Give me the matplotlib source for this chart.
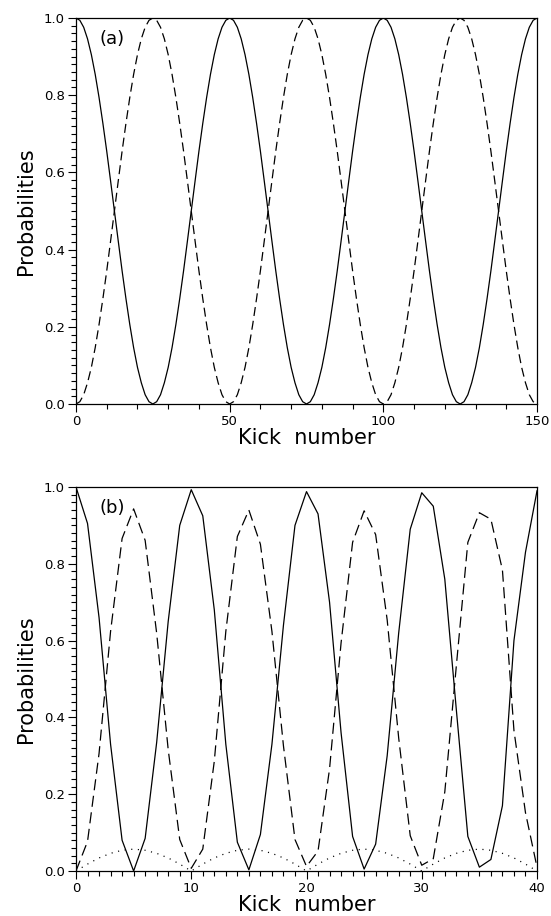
import numpy as np
import matplotlib
matplotlib.use("Agg")
import matplotlib.pyplot as plt
from matplotlib.ticker import MultipleLocator, FormatStrFormatter

# ---------------- data ----------------
# panel (a): kick numbers sampled every 1.25 kicks (0 .. 150)
kicks_a = np.arange(0, 150.001, 1.25)
_half_down = [1.000, .994, .976, .946, .905, .854, .794, .727, .655, .578,
              .500, .422, .345, .273, .206, .146, .095, .055, .024, .006]
_half_up = [0.000, .006, .024, .055, .095, .146, .206, .273, .345, .422,
            .500, .578, .655, .727, .794, .854, .905, .946, .976, .994]
solid_a = [1.000, .994, .976, .946, .905, .854, .794, .727, .655, .578,
           .500, .422, .345, .273, .206, .146, .095, .055, .024, .006,
           0.000, .006, .024, .055, .095, .146, .206, .273, .345, .422,
           .500, .578, .655, .727, .794, .854, .905, .946, .976, .994,
           1.000, .994, .976, .946, .905, .854, .794, .727, .655, .578,
           .500, .422, .345, .273, .206, .146, .095, .055, .024, .006,
           0.000, .006, .024, .055, .095, .146, .206, .273, .345, .422,
           .500, .578, .655, .727, .794, .854, .905, .946, .976, .994,
           1.000, .994, .976, .946, .905, .854, .794, .727, .655, .578,
           .500, .422, .345, .273, .206, .146, .095, .055, .024, .006,
           0.000, .006, .024, .055, .095, .146, .206, .273, .345, .422,
           .500, .578, .655, .727, .794, .854, .905, .946, .976, .994,
           1.000]
dashed_a = [0.000, .006, .024, .055, .095, .146, .206, .273, .345, .422,
            .500, .578, .655, .727, .794, .854, .905, .946, .976, .994,
            1.000, .994, .976, .946, .905, .854, .794, .727, .655, .578,
            .500, .422, .345, .273, .206, .146, .095, .055, .024, .006,
            0.000, .006, .024, .055, .095, .146, .206, .273, .345, .422,
            .500, .578, .655, .727, .794, .854, .905, .946, .976, .994,
            1.000, .994, .976, .946, .905, .854, .794, .727, .655, .578,
            .500, .422, .345, .273, .206, .146, .095, .055, .024, .006,
            0.000, .006, .024, .055, .095, .146, .206, .273, .345, .422,
            .500, .578, .655, .727, .794, .854, .905, .946, .976, .994,
            1.000, .994, .976, .946, .905, .854, .794, .727, .655, .578,
            .500, .422, .345, .273, .206, .146, .095, .055, .024, .006,
            0.000]

# panel (b): integer kick numbers 0..40
kicks_b = np.arange(0, 41)
solid_b = [1.000, 0.905, 0.660, 0.330, 0.080, 0.000, 0.085, 0.335, 0.650, 0.900,
           0.993, 0.925, 0.680, 0.330, 0.075, 0.003, 0.095, 0.330, 0.640, 0.900,
           0.988, 0.930, 0.700, 0.360, 0.090, 0.005, 0.070, 0.300, 0.620, 0.890,
           0.985, 0.950, 0.760, 0.420, 0.090, 0.010, 0.030, 0.170, 0.600, 0.830,
           0.990]
dashed_b = [0.000, 0.077, 0.306, 0.624, 0.866, 0.943, 0.861, 0.619, 0.316, 0.082,
            0.007, 0.057, 0.286, 0.624, 0.871, 0.940, 0.851, 0.624, 0.326, 0.082,
            0.012, 0.052, 0.266, 0.594, 0.856, 0.938, 0.876, 0.654, 0.346, 0.092,
            0.015, 0.032, 0.206, 0.534, 0.856, 0.933, 0.916, 0.784, 0.366, 0.152,
            0.010]
dotted_b = [0.000, 0.018, 0.034, 0.046, 0.054, 0.057, 0.054, 0.046, 0.034, 0.018,
            0.000, 0.018, 0.034, 0.046, 0.054, 0.057, 0.054, 0.046, 0.034, 0.018,
            0.000, 0.018, 0.034, 0.046, 0.054, 0.057, 0.054, 0.046, 0.034, 0.018,
            0.000, 0.018, 0.034, 0.046, 0.054, 0.057, 0.054, 0.046, 0.034, 0.018,
            0.000]

y_ticks = [0.0, 0.2, 0.4, 0.6, 0.8, 1.0]
x_ticks_a = [0, 50, 100, 150]
x_ticks_b = [0, 10, 20, 30, 40]

# ---------------- figure ----------------
plt.rcParams['font.family'] = ['DejaVu Sans']
plt.rcParams['lines.scale_dashes'] = False

W, H = 551, 916
fig = plt.figure(figsize=(W / 100, H / 100), dpi=100)

def frac(l, t, r, b):
    return [l / W, 1 - b / H, (r - l) / W, (b - t) / H]

ax_a = fig.add_axes(frac(76, 18, 537, 404))
ax_b = fig.add_axes(frac(76, 487, 537, 871))

LW = 0.9
DASH = (6.5, 3.5)
DOT = (0.8, 4.0)

ax_a.plot(kicks_a, solid_a, color='black', lw=LW)
ax_a.plot(kicks_a, dashed_a, color='black', lw=LW, linestyle=(0, DASH))

ax_b.plot(kicks_b, solid_b, color='black', lw=LW)
ax_b.plot(kicks_b, dashed_b, color='black', lw=LW, linestyle=(0, (8, 4)))
ax_b.plot(kicks_b, dotted_b, color='black', lw=LW, linestyle=(0, DOT))

for ax, xmax, xt, xminor, lab in [(ax_a, 150, x_ticks_a, 10, '(a)'),
                                  (ax_b, 40, x_ticks_b, 1, '(b)')]:
    ax.set_xlim(0, xmax)
    ax.set_ylim(0, 1)
    ax.set_xticks(xt)
    ax.xaxis.set_minor_locator(MultipleLocator(xminor))
    ax.set_yticks(y_ticks)
    ax.yaxis.set_minor_locator(MultipleLocator(0.02))
    ax.yaxis.set_major_formatter(FormatStrFormatter('%.1f'))
    ax.tick_params(which='major', direction='out', length=6, width=0.8,
                   labelsize=9.5, pad=2)
    ax.tick_params(which='minor', direction='out', length=3.5, width=0.8)
    ax.tick_params(top=False, right=False, which='both')
    for s in ax.spines.values():
        s.set_linewidth(0.9)
    ax.set_xlabel('Kick  number', fontsize=15, labelpad=0)
    ax.set_ylabel('Probabilities', fontsize=15, labelpad=6)
    ax.text(0.05, 0.945, lab, transform=ax.transAxes, fontsize=13,
            ha='left', va='center')

fig.savefig('out.png', dpi=100)
